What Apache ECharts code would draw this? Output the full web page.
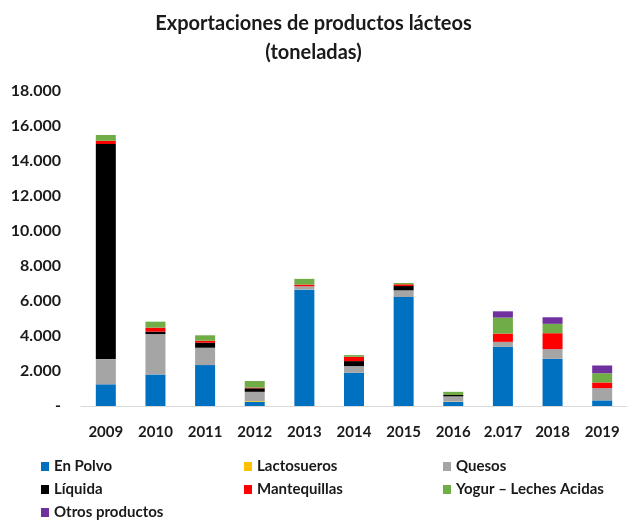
<!DOCTYPE html>
<html>
<head>
<meta charset="utf-8">
<script src="https://cdn.jsdelivr.net/npm/echarts@6/dist/echarts.min.js"></script>
<style>html,body{margin:0;padding:0;background:#fff;}#c{width:627px;height:521px;}</style>
</head>
<body>
<div id="c"></div>
<script>
const years = ['2009','2010','2011','2012','2013','2014','2015','2016','2.017','2018','2019'];
const enPolvo      = [1240, 1800, 2340, 240, 6650, 1900, 6230, 230, 3380, 2700, 320];
const lactosueros  = [0, 0, 0, 40, 0, 0, 0, 20, 0, 0, 0];
const quesos       = [1440, 2310, 990, 530, 190, 380, 380, 300, 285, 550, 700];
const liquida      = [12290, 140, 285, 200, 0, 285, 245, 80, 0, 0, 0];
const mantequillas = [190, 230, 115, 40, 100, 245, 100, 0, 475, 910, 325];
const yogur        = [325, 340, 310, 380, 325, 100, 75, 180, 910, 535, 530];
const otros        = [0, 0, 0, 0, 0, 0, 0, 0, 360, 375, 440];
const yTicks = [0, 2000, 4000, 6000, 8000, 10000, 12000, 14000, 16000, 18000];

const seriesDefs = [
  ['En Polvo', enPolvo, '#0070C0'],
  ['Lactosueros', lactosueros, '#FFC000'],
  ['Quesos', quesos, '#A5A5A5'],
  ['Líquida', liquida, '#000000'],
  ['Mantequillas', mantequillas, '#FF0000'],
  ['Yogur – Leches Acidas', yogur, '#70AD47'],
  ['Otros productos', otros, '#7030A0']
];

const FONT = 'Lato';
const legendText = {fontFamily: FONT, fontWeight: 'bold', fontSize: 15, color: '#1a1a1a'};
function mkLegend(left, data) {
  return {orient: 'vertical', left: left, top: 459, itemWidth: 8, itemHeight: 9, itemGap: 8,
          icon: 'rect', textStyle: legendText, data: data, padding: 0};
}

const chart = echarts.init(document.getElementById('c'));
chart.setOption({
  animation: false,
  backgroundColor: '#fff',
  title: {
    text: 'Exportaciones de productos lácteos\n(toneladas)',
    left: 'center', top: 4,
    textStyle: {fontFamily: FONT, fontWeight: 'bold', fontSize: 20, lineHeight: 29, color: '#1a1a1a'}
  },
  legend: [
    mkLegend(41, ['En Polvo', 'Líquida', 'Otros productos']),
    mkLegend(244, ['Lactosueros', 'Mantequillas']),
    mkLegend(443, ['Quesos', 'Yogur – Leches Acidas'])
  ],
  grid: {left: 81, width: 551, top: 91, bottom: 115},
  xAxis: {
    type: 'category', data: years,
    axisLine: {lineStyle: {color: '#D9D9D9', width: 1}},
    axisTick: {show: false},
    axisLabel: {interval: 0, fontFamily: FONT, fontWeight: 'bold', fontSize: 15, color: '#1a1a1a', margin: 19}
  },
  yAxis: {
    type: 'value', min: 0, max: 18000, interval: 2000,
    axisLine: {show: false}, axisTick: {show: false}, splitLine: {show: false},
    axisLabel: {fontFamily: FONT, fontWeight: 'bold', fontSize: 16, color: '#1a1a1a', margin: 20,
      formatter: v => v === 0 ? '-' : String(v).replace(/\B(?=(\d{3})+(?!\d))/g, '.')}
  },
  series: seriesDefs.map(([name, data, color]) => ({
    name, type: 'bar', stack: 'total', data, barWidth: 20,
    itemStyle: {color}
  }))
});
</script>
</body>
</html>
